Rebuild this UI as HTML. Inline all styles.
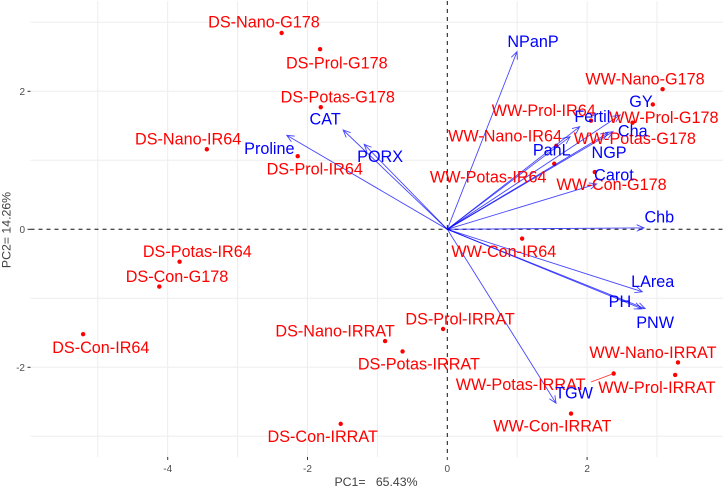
<!DOCTYPE html>
<html>
<head>
<meta charset="utf-8">
<style>
html,body{margin:0;padding:0;background:#fff;width:724px;height:488px;overflow:hidden}
svg{display:block;font-family:"Liberation Sans",sans-serif}
</style>
</head>
<body>
<svg id="chart" width="724" height="488" viewBox="0 0 724 488" xmlns="http://www.w3.org/2000/svg"></svg>
<script>
const xTicks = [-4, -2, 0, 2];
const yTicks = [-2, 0, 2];
const xGrid = [-5, -4, -3, -2, -1, 1, 2, 3];
const yGrid = [-3, -2, -1, 1, 2, 3];
const sampleNames = ["DS-Nano-G178","DS-Prol-G178","DS-Potas-G178","DS-Nano-IR64","DS-Prol-IR64","DS-Potas-IR64","DS-Con-G178","DS-Con-IR64","DS-Nano-IRRAT","DS-Potas-IRRAT","DS-Con-IRRAT","DS-Prol-IRRAT","WW-Con-IR64","WW-Nano-IRRAT","WW-Prol-IRRAT","WW-Potas-IRRAT","WW-Con-IRRAT","WW-Nano-G178","WW-Prol-G178","WW-Potas-G178","WW-Prol-IR64","WW-Nano-IR64","WW-Potas-IR64","WW-Con-G178"];
const samplePC1 = [-2.37,-1.82,-1.81,-3.44,-2.14,-3.83,-4.12,-5.21,-0.89,-0.64,-1.525,-0.06,1.07,3.30,3.26,2.38,1.77,3.08,2.94,2.65,2.056,1.56,1.53,2.11];
const samplePC2 = [2.845,2.61,1.77,1.16,1.06,-0.47,-0.83,-1.52,-1.62,-1.77,-2.82,-1.445,-0.135,-1.93,-2.11,-2.09,-2.67,2.03,1.81,1.545,1.574,1.21,0.95,0.83];
const traitNames = ["NPanP","GY","Fertil","Cha","NGP","PanL","Carot","Chb","LArea","PH","PNW","TGW","CAT","Proline","PORX"];
const traitPC1 = [0.997,2.474,1.894,2.371,2.30,1.756,2.137,2.814,2.79,2.78,2.83,1.555,-1.49,-2.297,-1.19];
const traitPC2 = [2.574,1.656,1.487,1.414,1.396,1.342,0.657,0.02,-0.905,-1.15,-1.15,-2.52,1.439,1.363,1.232];

/* repel-style label placement, relative to each mark */
const sampleLabelShift = [[-17.7,-11],[16.7,13.7],[17,-10],[-18.7,-10.3],[17,13],[17.7,-10],[17.7,-10],[17.7,13.3],[-50,-10.3],[16.3,12.7],[-18,12.6],[17,-10],[-18.3,13],[-25,-10],[-18.3,12.7],[-93,11],[-18.7,12.7],[-17.6,-10],[11,13],[2.3,15.6],[-47.3,-10],[-51.3,-9.7],[-66,13],[16.7,12.7]];
const traitLabelShift = [[16,-10.4],[20.7,-13.3],[12.7,-10],[19.7,-0.7],[1,19.3],[-18.3,13.3],[17.3,-9],[15.3,-10.7],[10.4,-10],[-21.7,-7],[10,14],[18,-10],[-18,-11],[-17.4,13.4],[16,12.4]];

const svg = document.getElementById('chart');
const NS = 'http://www.w3.org/2000/svg';
const panel = {l:30.5, r:723, t:1, b:457};
function sx(v){ return 447.3 + 69.9 * v; }
function sy(v){ return 229.3 - 69 * v; }

function make(tag, attrs, text){
  const el = document.createElementNS(NS, tag);
  for (const k in attrs) el.setAttribute(k, attrs[k]);
  if (text !== undefined) el.textContent = text;
  svg.appendChild(el);
  return el;
}

xGrid.forEach(function(v){
  const el = make('line',{x1:sx(v),x2:sx(v),y1:panel.t,y2:panel.b,stroke:'#ededed','stroke-width':1});
  
  
});
yGrid.forEach(function(v){
  const el = make('line',{x1:panel.l,x2:panel.r,y1:sy(v),y2:sy(v),stroke:'#ededed','stroke-width':1});
  
  
});

const zeroH = make('line',{x1:panel.l,x2:panel.r,y1:sy(0),y2:sy(0),stroke:'#111','stroke-width':1,'stroke-dasharray':'4 4'});


const zeroV = make('line',{x1:sx(0),x2:sx(0),y1:panel.t,y2:panel.b,stroke:'#111','stroke-width':1,'stroke-dasharray':'4 4'});



xTicks.forEach(function(v){
  const t = make('line',{x1:sx(v),x2:sx(v),y1:panel.b,y2:panel.b+3,stroke:'#333','stroke-width':1});
  
  
  const l = make('text',{x:sx(v),y:472,'text-anchor':'middle','font-size':'10px',fill:'#4d4d4d'},String(v));
  
  
});
yTicks.forEach(function(v){
  const t = make('line',{x1:panel.l-3,x2:panel.l,y1:sy(v),y2:sy(v),stroke:'#333','stroke-width':1});
  
  
  const l = make('text',{x:25,y:sy(v)+3.5,'text-anchor':'end','font-size':'10px',fill:'#4d4d4d'},String(v));
  
  
});

const leader = make('line',{x1:591,y1:382,x2:sx(samplePC1[15]),y2:sy(samplePC2[15]),stroke:'#ff0000','stroke-width':0.9,'stroke-opacity':0.8});



samplePC1.forEach(function(v,i){
  const c = make('circle',{cx:sx(v),cy:sy(samplePC2[i]),r:2.2,fill:'#ff0000'});
  
  
});

traitPC1.forEach(function(v,i){
  const x0 = sx(0), y0 = sy(0), x1 = sx(v), y1 = sy(traitPC2[i]);
  const a = Math.atan2(y1-y0, x1-x0), h = 8, w = 0.42;
  const ax = x1 - h*Math.cos(a-w), ay = y1 - h*Math.sin(a-w);
  const bx = x1 - h*Math.cos(a+w), by = y1 - h*Math.sin(a+w);
  const p = make('path',{d:'M'+x0+' '+y0+'L'+x1+' '+y1+'M'+ax+' '+ay+'L'+x1+' '+y1+'L'+bx+' '+by,fill:'none',stroke:'#0000ff','stroke-width':0.9,'stroke-opacity':0.72});
  
  
});

sampleNames.forEach(function(n,i){
  const s = sampleLabelShift[i];
  const t = make('text',{x:sx(samplePC1[i])+s[0],y:sy(samplePC2[i])+s[1]+5.5,'text-anchor':'middle','font-size':'16.2px',fill:'#ff0000'},n);
  
  
});
traitNames.forEach(function(n,i){
  const s = traitLabelShift[i];
  const t = make('text',{x:sx(traitPC1[i])+s[0],y:sy(traitPC2[i])+s[1]+5.5,'text-anchor':'middle','font-size':'16.2px',fill:'#0000ff'},n);
  
  
});

const xTitle = make('text',{x:376,y:486,'text-anchor':'middle','font-size':'12.3px',fill:'#404040'},'PC1=\u00a0\u00a0\u00a065.43%');


const yTitle = make('text',{x:0,y:0,transform:'translate(10.5,230) rotate(-90)','text-anchor':'middle','font-size':'12.3px',fill:'#404040'},'PC2= 14.26%');


</script>
</body>
</html>
